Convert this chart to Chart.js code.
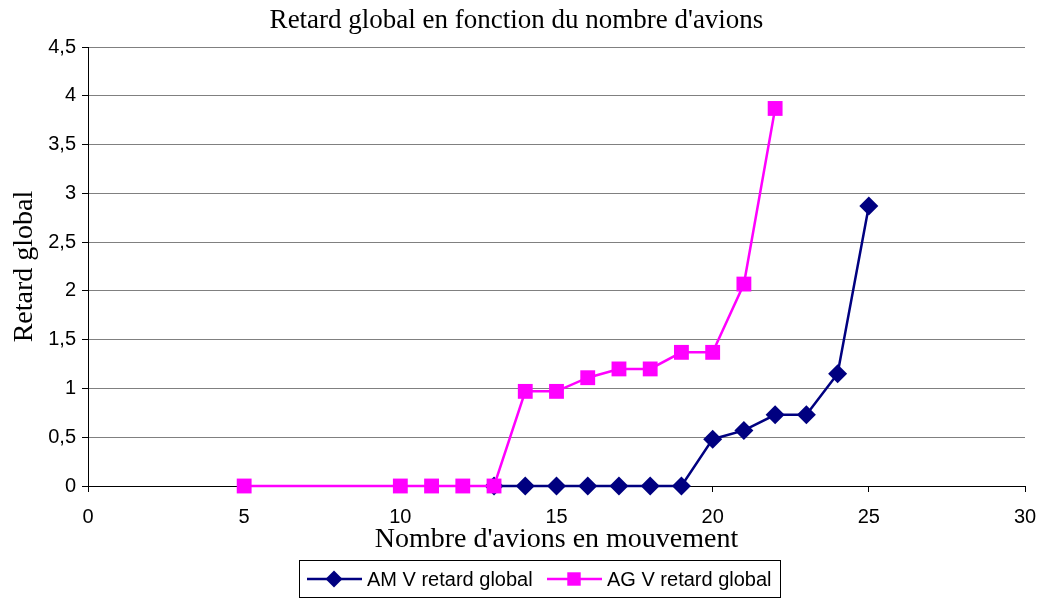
<!DOCTYPE html>
<html>
<head>
<meta charset="utf-8">
<script src="https://cdn.jsdelivr.net/npm/chart.js@4/dist/chart.umd.min.js"></script>
<style>
  html, body { margin: 0; padding: 0; background: #fff; }
  #wrap { width: 1042px; height: 599px; }
</style>
</head>
<body>
<div id="wrap"><canvas id="c" width="1042" height="599"></canvas></div>
<script>
// Nombre d'avions en mouvement et retard global mesuré
const avionsAM = [13, 14, 15, 16, 17, 18, 19, 20, 21, 22, 23, 24, 25];
const retardAM = [0, 0, 0, 0, 0, 0, 0, 0.48, 0.57, 0.73, 0.73, 1.15, 2.87];
const avionsAG = [5, 10, 11, 12, 13, 14, 15, 16, 17, 18, 19, 20, 21, 22];
const retardAG = [0, 0, 0, 0, 0, 0.97, 0.97, 1.11, 1.2, 1.2, 1.37, 1.37, 2.07, 3.87];
const xTicks = [0, 5, 10, 15, 20, 25, 30];
const yTicks = [0, 0.5, 1, 1.5, 2, 2.5, 3, 3.5, 4, 4.5];
const seriesNames = ['AM V retard global', 'AG V retard global'];

const toPoints = (xs, ys) => xs.map((x, i) => ({ x: x, y: ys[i] }));

const SANS = '"Liberation Sans", Arial, sans-serif';
const SERIF = '"Liberation Serif", "Times New Roman", serif';

// Boxed legend with line + marker samples, drawn below the axis title
const boxLegend = {
  id: 'boxLegend',
  afterDraw(chart) {
    const ctx = chart.ctx;
    const left = 299, top = 560, w = 481, h = 37;
    ctx.save();
    ctx.strokeStyle = '#000';
    ctx.lineWidth = 1;
    ctx.strokeRect(left + 0.5, top + 0.5, w, h);
    const cy = top + h / 2 + 0.5;
    const starts = [307, 547];
    ctx.font = '20px ' + SANS;
    ctx.textBaseline = 'middle';
    chart.data.datasets.forEach((ds, i) => {
      const x0 = starts[i];
      ctx.strokeStyle = ds.borderColor;
      ctx.lineWidth = 2.5;
      ctx.beginPath();
      ctx.moveTo(x0, cy);
      ctx.lineTo(x0 + 55, cy);
      ctx.stroke();
      ctx.fillStyle = ds.pointBackgroundColor;
      Chart.helpers.drawPoint(ctx, { pointStyle: ds.pointStyle, rotation: 0, borderWidth: 0, radius: ds.pointRadius - 1 }, x0 + 27, cy);
      ctx.fillStyle = '#000';
      ctx.textAlign = 'left';
      ctx.fillText(ds.label, x0 + 60, cy + 1);
    });
    ctx.restore();
  }
};

new Chart(document.getElementById('c'), {
  type: 'line',
  data: {
    datasets: [
      {
        label: seriesNames[0],
        data: toPoints(avionsAM, retardAM),
        borderColor: '#000080',
        backgroundColor: '#000080',
        pointBackgroundColor: '#000080',
        pointBorderColor: '#000080',
        pointStyle: 'rectRot',
        pointRadius: 9.5,
        pointBorderWidth: 0,
        borderWidth: 2.5,
        tension: 0,
        fill: false,
        clip: false,
        order: 1
      },
      {
        label: seriesNames[1],
        data: toPoints(avionsAG, retardAG),
        borderColor: '#FF00FF',
        backgroundColor: '#FF00FF',
        pointBackgroundColor: '#FF00FF',
        pointBorderColor: '#FF00FF',
        pointStyle: 'rect',
        pointRadius: 10.5,
        pointBorderWidth: 0,
        borderWidth: 2.5,
        tension: 0,
        fill: false,
        clip: false,
        order: 0
      }
    ]
  },
  options: {
    responsive: false,
    animation: false,
    devicePixelRatio: 1,
    layout: { padding: { left: 8, right: 17, top: 0, bottom: 43 } },
    plugins: {
      legend: { display: false },
      tooltip: { enabled: false },
      title: {
        display: true,
        text: "Retard global en fonction du nombre d'avions",
        color: '#000',
        font: { family: SERIF, size: 27, weight: 'normal' },
        padding: { top: 5, bottom: 9.6 }
      }
    },
    scales: {
      x: {
        type: 'linear',
        min: 0,
        max: 30,
        afterBuildTicks(scale) { scale.ticks = xTicks.map(v => ({ value: v })); },
        afterFit(scale) {
          scale.height = 70;
          scale.paddingLeft = 0;
          scale.paddingRight = 0;
        },
        ticks: {
          color: '#000',
          font: { family: SANS, size: 20 },
          padding: 13,
          maxRotation: 0
        },
        grid: { drawOnChartArea: false, drawTicks: true, tickLength: 6, color: '#000' },
        border: { color: '#000', width: 1 },
        title: {
          display: true,
          text: "Nombre d'avions en mouvement",
          color: '#000',
          font: { family: SERIF, size: 28, weight: 'normal' },
          padding: { top: 0, bottom: 0 }
        }
      },
      y: {
        type: 'linear',
        min: 0,
        max: 4.5,
        afterBuildTicks(scale) { scale.ticks = yTicks.map(v => ({ value: v })); },
        afterFit(scale) { scale.width = 80; },
        ticks: {
          color: '#000',
          font: { family: SANS, size: 20 },
          padding: 6,
          callback: v => String(v).replace('.', ',')
        },
        grid: { drawOnChartArea: true, drawTicks: true, tickLength: 6, color: '#808080', tickColor: '#000' },
        border: { color: '#000', width: 1 },
        title: {
          display: true,
          text: 'Retard global',
          color: '#000',
          font: { family: SERIF, size: 28, weight: 'normal' },
          padding: { top: 0, bottom: 2 }
        }
      }
    }
  },
  plugins: [boxLegend]
});
</script>
</body>
</html>
